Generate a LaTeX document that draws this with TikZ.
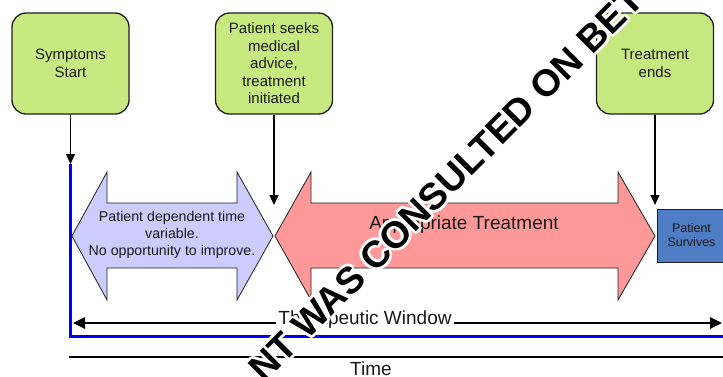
\documentclass[tikz,border=0pt]{standalone}
\usepackage{fontspec}
\setmainfont{Liberation Sans}
\usetikzlibrary{arrows.meta}

\definecolor{boxgreen}{RGB}{200,232,128}
\definecolor{lavender}{RGB}{204,204,255}
\definecolor{salmon}{RGB}{255,153,153}
\definecolor{survblue}{RGB}{79,125,196}
\definecolor{edgegray}{RGB}{30,30,30}

\begin{document}
\begin{tikzpicture}[x=1pt, y=-1pt, >={Triangle[length=10pt,width=9pt]},
    main node/.style={rectangle, rounded corners=14pt, draw=edgegray, line width=1.3pt, fill=boxgreen, minimum width=117pt, minimum height=101pt, align=center, font=\fontsize{15}{17.5}\selectfont},
    survive node/.style={rectangle, draw=edgegray, line width=1pt, fill=survblue, minimum width=69pt, minimum height=53pt, align=center, font=\fontsize{12.5}{14}\selectfont},
    stamp/.style={rotate=45, font=\fontsize{37.5}{44}\selectfont\bfseries}]
        \tikzstyle{every node}=[inner sep=0pt, text=black!90]
        \useasboundingbox (0,0) rectangle (723,376);

          % the three events
          \node[main node] (1) at (70.5,63.5) {Symptoms\\Start};
          \node[main node] (2) [right of=1, node distance=203.5pt] {Patient seeks\\medical\\advice,\\treatment\\initiated};
          \node[main node] (3) [right of=2, node distance=381pt] {Treatment\\ends};
          \node[survive node] (4) at (691.5,235.5) {Patient\\Survives};

          \coordinate (c1) at (70.5,164);
          \coordinate (c2) at (274,205);
          \coordinate (c3) at (655,205);
          \coordinate (c4) at (70.5,336);
          \coordinate (c5) at (730,336);
          \coordinate (c6) at (73,323);
          \coordinate (c7) at (722,323);
          \coordinate (c8) at (69,357);
          \coordinate (c9) at (730,357);

          % the two periods
          \draw[draw=edgegray, line width=0.8pt, fill=lavender] (72,236) -- (107,172) -- (107,203) -- (237,203) -- (237,172) -- (273,236) -- (237,300) -- (237,268) -- (107,268) -- (107,300) -- cycle;
          \draw[draw=edgegray, line width=0.8pt, fill=salmon] (275,236) -- (311,172) -- (311,203) -- (618,203) -- (618,172) -- (655,236) -- (618,300) -- (618,268) -- (311,268) -- (311,300) -- cycle;
          \node[align=center, font=\fontsize{14.2}{17}\selectfont] (5) at (172,235) {Patient dependent time\\variable.\\No opportunity to improve.};
          \node[font=\fontsize{19}{22}\selectfont] (6) at (464,225) {Appropriate Treatment};

          \path[->, line width=1.3pt]
            (1) edge (c1)
            (2) edge (c2)
            (3) edge (c3);

          \draw[blue, line width=3pt] (c1) -- (c4) -- (c5);
          \draw[line width=2.5pt] (c8) -- (c9);

          \node[font=\fontsize{19}{22}\selectfont, anchor=base] (7) at (365,324) {Therapeutic Window};
          \draw[-{Triangle[length=12pt,width=11pt]}, line width=2.5pt] (c6 -| 7.west) ++(-2,0) -- (c6);
          \draw[-{Triangle[length=12pt,width=11pt]}, line width=2.5pt] (c7 -| 7.east) ++(2,0) -- (c7);
          \node[font=\fontsize{19}{22}\selectfont, anchor=base] (8) at (371,375.6) {Time};

          % stamp across the sheet
          \foreach \dx/\dy in {-2.8/0,2.8/0,0/-2.8,0/2.8,-2/-2,2/2,-2/2,2/-2}
            \node[stamp, text=white] at (446+\dx,184+\dy) {NT WAS CONSULTED ON BET};
          \node[stamp, text=black] (9) at (446,184) {NT WAS CONSULTED ON BET};

\end{tikzpicture}
\end{document}
